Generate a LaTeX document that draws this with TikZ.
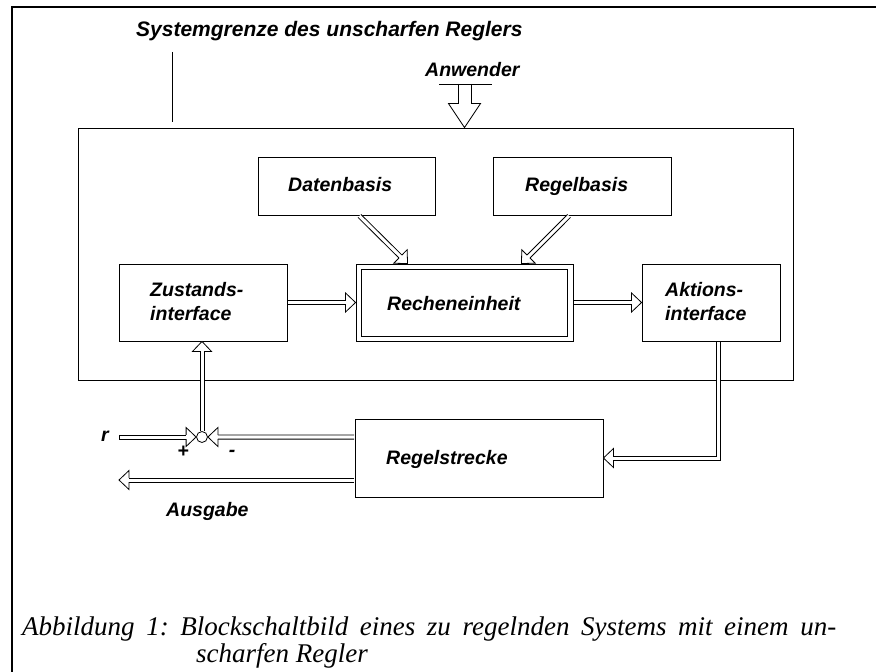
\documentclass[tikz,border=0pt]{standalone}
\usepackage{fontspec}
\setmainfont{Liberation Serif}
\setsansfont{Liberation Sans}
\usetikzlibrary{calc}

% Open block-arrow head: #1 tip, #2 a point back along the shaft,
% #3 head length, #4 head half width, #5 shaft half width,
% #6 name given to the centre of the head's base (where the shaft ends)
\newcommand\openhead[6]{%
  \coordinate (#6) at ($(#1)!#3!(#2)$);
  \fill[white] ($(#6)!#4!90:(#1)$) -- (#1) -- ($(#6)!#4!-90:(#1)$) -- cycle;
  \draw[headline] ($(#6)!#5!90:(#1)$) -- ($(#6)!#4!90:(#1)$) -- (#1)
     -- ($(#6)!#4!-90:(#1)$) -- ($(#6)!#5!-90:(#1)$);
}
% Straight hollow shaft from #1 to #2 with half width #3:
% white band with a black edge line on each side
\newcommand\hollowshaft[3]{%
  \fill[white] ($(#1)!#3!90:(#2)$) -- ($(#2)!#3!-90:(#1)$)
     -- ($(#2)!#3!90:(#1)$) -- ($(#1)!#3!-90:(#2)$) -- cycle;
  \draw[hairline] ($(#1)!#3!90:(#2)$) -- ($(#2)!#3!-90:(#1)$);
  \draw[hairline] ($(#1)!#3!-90:(#2)$) -- ($(#2)!#3!90:(#1)$);
}

\tikzset{
  frameline/.style={line width=2.5bp},
  box/.style 2 args={draw, line width=0.9bp, inner sep=0pt,
    minimum width=#1, minimum height=#2},
  lbl/.style={font=\sffamily\bfseries\itshape\fontsize{19.5bp}{24bp}\selectfont,
    inner sep=0pt, anchor=base west},
  headline/.style={line width=0.8bp, line join=miter},
  hairline/.style={line width=0.8bp},
  captext/.style={font=\itshape\fontsize{27bp}{31bp}\selectfont\frenchspacing,
    inner sep=0pt, anchor=base west},
}

\begin{document}
\begin{tikzpicture}[x=1bp, y=-1bp]
\useasboundingbox (0,0) rectangle (876,672);

% outer frame (top and left edges only)
\draw[frameline] (12,673) -- (12,7) -- (878,7);

% boundary of the controller and its caption
\node[lbl, font=\sffamily\bfseries\itshape\fontsize{21bp}{24bp}\selectfont] (sysl) at (136,37) {Systemgrenze des unscharfen Reglers};
\node[box={715bp}{252bp}] (big) at (435.5,254) {};
\coordinate (sysmark) at (172,52);
\draw[hairline] (sysmark) -- +(0,70);

% blocks
\node[box={177bp}{58bp}] (dat) at (346.5,186) {};
\node[box={178bp}{58bp}] (reg) at (582,186) {};
\node[box={217bp}{77bp}] (rech) at (464.5,302.5) {};
\draw[line width=0.9bp] ([xshift=6bp,yshift=-6bp]rech.north west)
  rectangle ([xshift=-6bp,yshift=5bp]rech.south east);
\node[box={168bp}{77bp}] (zus) at (203,302.5) {};
\node[box={138bp}{77bp}] (akt) at (711,302.5) {};
\node[box={248bp}{78bp}] (strecke) at (479,458) {};
\node[draw, circle, line width=0.8bp, minimum size=11bp, inner sep=0pt] (sum) at (202,437) {};

% labels
\node[lbl] (anwl) at (425,77) {Anwender};
\node[lbl] (datl) at (288,191.3) {Datenbasis};
\node[lbl] (regl) at (525,191.3) {Regelbasis};
\node[lbl] (zusl) at (150,296) {\begin{tabular}[t]{@{}l@{}}Zustands-\\interface\end{tabular}};
\node[lbl] (rechl) at (387,310) {Recheneinheit};
\node[lbl] (aktl) at (665,296) {\begin{tabular}[t]{@{}l@{}}Aktions-\\interface\end{tabular}};
\node[lbl] (strl) at (386,464) {Regelstrecke};
\node[lbl] (rl) at (101,441) {r};
\node[lbl, anchor=center] (plus) at (183,452) {+};
\node[lbl, anchor=center] (minus) at (232,453) {-};
\node[lbl] (ausl) at (166,516.7) {Ausgabe};

% user input
\coordinate (usertail) at (464.5,84);
\coordinate (usertip) at (big.north -| usertail);
\openhead{usertip}{usertail}{24bp}{16bp}{6.5bp}{userbase}
\hollowshaft{usertail}{userbase}{6.5bp}
\draw[hairline] ([xshift=-25.5bp]usertail) -- ([xshift=27.5bp]usertail);

% data base and rule base feed the inference unit
\coordinate (datout) at ([xshift=13bp,yshift=-0.5bp]dat.south);
\coordinate (dattip) at ([xshift=52bp]rech.north west);
\openhead{dattip}{datout}{10bp}{9.5bp}{2.1bp}{datbase}
\hollowshaft{datout}{datbase}{2.1bp}

\coordinate (regout) at ([xshift=-13bp,yshift=-0.5bp]reg.south);
\coordinate (regtip) at ([xshift=-52bp]rech.north east);
\openhead{regtip}{regout}{10bp}{9.5bp}{2.1bp}{regbase}
\hollowshaft{regout}{regbase}{2.1bp}

% state interface -> inference unit -> action interface
\coordinate (zusout) at ([xshift=0.5bp]zus.east);
\openhead{rech.west}{zusout}{10bp}{9.5bp}{2.1bp}{zusbase}
\hollowshaft{zusout}{zusbase}{2.1bp}

\coordinate (rechout) at ([xshift=0.5bp]rech.east);
\openhead{akt.west}{rechout}{10bp}{9.5bp}{2.1bp}{rechbase}
\hollowshaft{rechout}{rechbase}{2.1bp}

% action interface -> plant (one bend)
\coordinate (aktout) at ([xshift=7bp,yshift=-0.5bp]akt.south);
\coordinate (aktback) at ([xshift=20bp]strecke.east);
\openhead{strecke.east}{aktback}{10bp}{9.5bp}{2.1bp}{aktbase}
\coordinate (aktbend) at (aktout |- aktbase);
\hollowshaft{aktout}{aktbend}{2.1bp}
\hollowshaft{aktbend}{aktbase}{2.1bp}
\fill[white] ([xshift=-2.1bp,yshift=2.1bp]aktbend) rectangle ([xshift=2.1bp,yshift=-2.1bp]aktbend);
\draw[hairline, line join=miter] ([xshift=-2.1bp]aktout) |- ([yshift=2.1bp]aktbase);
\draw[hairline, line join=miter] ([xshift=2.1bp]aktout) |- ([yshift=-2.1bp]aktbase);

% feedback into the summing point
\coordinate (fbout) at ([xshift=-0.5bp,yshift=21bp]strecke.west);
\openhead{sum.east}{fbout}{10bp}{9.5bp}{2.1bp}{fbbase}
\hollowshaft{fbout}{fbbase}{2.1bp}

% reference input r
\coordinate (rin) at (119,437);
\openhead{sum.west}{rin}{10bp}{9.5bp}{2.1bp}{rbase}
\hollowshaft{rin}{rbase}{2.1bp}
\draw[hairline] ([yshift=2.1bp]rin) -- ([yshift=-2.1bp]rin);

% summing point -> state interface
\coordinate (uptip) at (zus.south -| sum.north);
\openhead{uptip}{sum.north}{10bp}{9.5bp}{2.1bp}{upbase}
\hollowshaft{sum.north}{upbase}{2.1bp}

% plant output
\coordinate (outsrc) at ([xshift=-0.5bp,yshift=-22bp]strecke.west);
\coordinate (outtip) at (rin |- outsrc);
\openhead{outtip}{outsrc}{10bp}{9.5bp}{2.1bp}{outbase}
\hollowshaft{outsrc}{outbase}{2.1bp}

% figure caption
\node[captext] (cap1) at (22,635) {\makebox[814bp][s]{Abbildung 1: Blockschaltbild eines zu regelnden Systems mit einem un-}};
\node[captext] (cap2) at (196,662) {scharfen Regler};
\end{tikzpicture}
\end{document}
